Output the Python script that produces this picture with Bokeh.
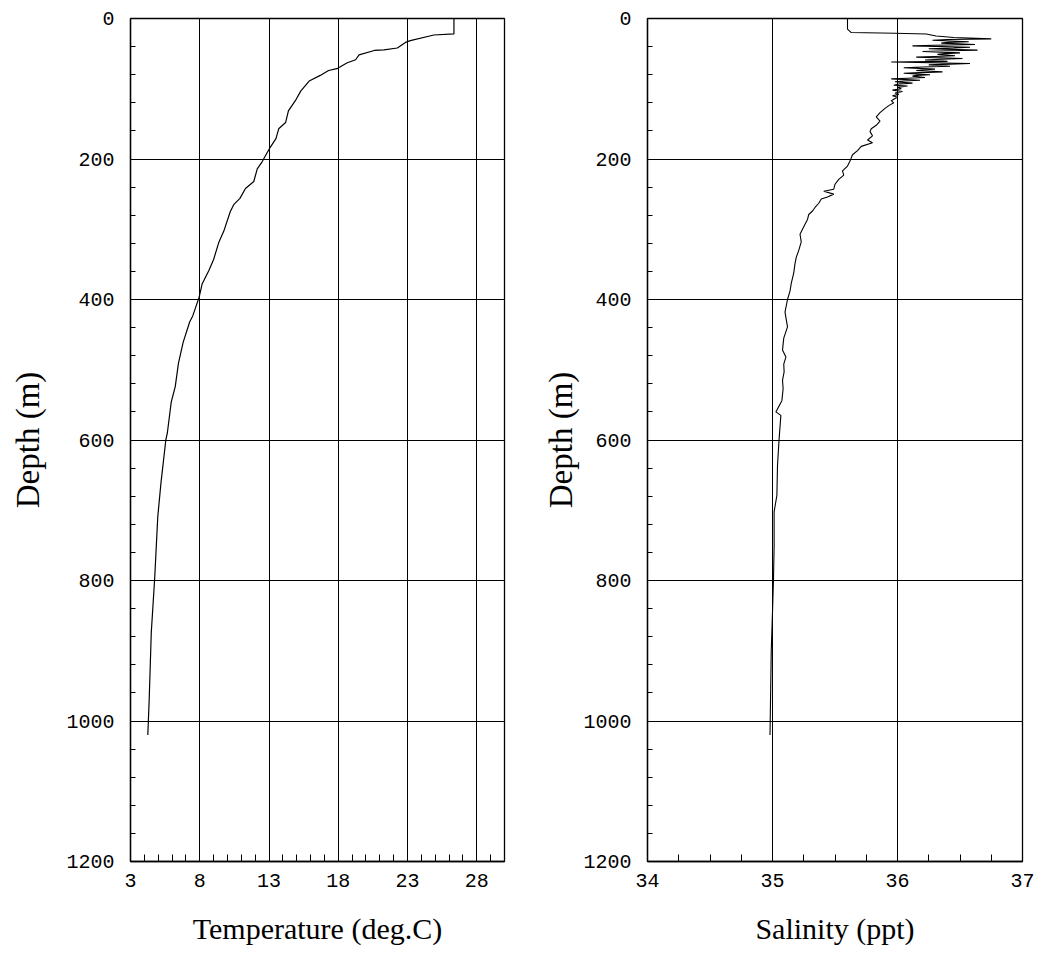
from bokeh.plotting import figure
from bokeh.layouts import row
from bokeh.models import Range1d, FixedTicker, SingleIntervalTicker
from bokeh.embed import file_html
from bokeh.resources import INLINE

# ---- data ----
temp_depth = [0, 22, 23.5, 31.5, 34, 42, 44.6, 45.5, 51.7, 58.7, 63, 71.4, 74, 81, 89, 103, 117,
              131.5, 148, 157, 171, 183, 195, 204, 214, 232, 242, 256, 265, 275, 303, 319, 343,
              359, 378, 397, 423, 432, 461, 491, 524, 546, 590, 600, 661, 709, 799, 874, 969, 1020]
temp_vals = [26.35, 26.35, 24.9, 23.2, 22.85, 22.26, 21.3, 20.6, 19.5, 19.25, 18.65, 17.9, 17.3,
             16.7, 15.9, 15.3, 14.9, 14.4, 14.2, 13.7, 13.5, 13.1, 12.75, 12.5, 12.15, 11.9, 11.3,
             10.9, 10.45, 10.2, 9.73, 9.37, 9.0, 8.65, 8.17, 7.95, 7.5, 7.27, 6.8, 6.46, 6.23, 5.94,
             5.66, 5.55, 5.2, 4.97, 4.74, 4.5, 4.35, 4.25]

sal_depth = [0, 15, 20, 21, 22, 25, 27, 29, 30, 31, 33, 34, 35, 37, 38, 39, 41, 42, 43, 45, 46,
             47, 49, 50, 51, 53, 54, 55, 57, 58, 59, 61, 62, 64, 65, 66, 68, 69, 70, 72, 73, 74,
             76, 77, 78, 80, 81, 82, 84, 85, 86, 88, 89, 90, 92, 93, 95, 96, 98, 100, 102, 104,
             106, 108, 110, 112, 114, 117, 120, 124, 128, 134, 140, 146, 152, 157, 161, 167, 173,
             177, 182, 188, 194, 203, 210, 217, 223, 229, 236, 243, 246, 250, 254, 257, 263, 269,
             274, 279, 286, 293, 300, 307, 318, 330, 340, 349, 362, 377, 388, 400, 418, 439, 455,
             472, 482, 492, 503, 515, 527, 544, 560, 565, 598, 636, 679, 702, 750, 797, 845, 900,
             960, 1020]
sal_vals = [35.60, 35.60, 35.63, 35.98, 36.23, 36.31, 36.45, 36.75, 36.40, 36.28, 36.57, 36.40,
            36.35, 36.62, 36.30, 36.12, 36.58, 36.45, 36.25, 36.64, 36.40, 36.20, 36.50, 36.38,
            36.32, 36.46, 36.30, 36.15, 36.52, 36.35, 36.22, 36.40, 35.95, 36.58, 36.42, 36.25,
            36.42, 36.20, 36.05, 36.30, 36.22, 36.15, 36.36, 36.18, 36.05, 36.26, 36.15, 36.12,
            36.22, 36.08, 35.95, 36.18, 36.05, 35.98, 36.12, 36.02, 35.97, 36.08, 36.00, 36.03,
            35.96, 36.04, 35.98, 36.01, 35.96, 36.00, 35.98, 35.95, 35.97, 35.93, 35.90, 35.86,
            35.83, 35.86, 35.83, 35.79, 35.78, 35.80, 35.76, 35.80, 35.71, 35.68, 35.64, 35.62,
            35.60, 35.56, 35.57, 35.53, 35.50, 35.49, 35.41, 35.49, 35.44, 35.39, 35.37, 35.34,
            35.32, 35.29, 35.28, 35.26, 35.24, 35.22, 35.23, 35.21, 35.19, 35.18, 35.17, 35.15,
            35.14, 35.12, 35.10, 35.12, 35.09, 35.08, 35.107, 35.09, 35.093, 35.08, 35.085, 35.075,
            35.027, 35.067, 35.053, 35.04, 35.035, 35.013, 35.013, 35.008, 35.0, 34.99, 34.985,
            34.98]

depth_ticks_interval = 200
temp_ticks = [3, 8, 13, 18, 23, 28]
temp_minor = list(range(3, 31))
sal_ticks = [34, 35, 36, 37]
sal_minor = [34 + 0.25 * i for i in range(13)]

TICK_FONT = "Liberation Mono"
LABEL_FONT = "Liberation Serif"


def make_fig(width, bl, br, xr, ticks, minor, xlabel, ylab_standoff):
    p = figure(width=width, height=959, x_range=Range1d(*xr), y_range=Range1d(1200, 0),
               output_backend="svg", toolbar_location=None,
               min_border_left=bl, min_border_right=br, min_border_top=18, min_border_bottom=98)
    p.background_fill_color = "white"
    p.border_fill_color = "white"
    p.outline_line_color = "black"
    p.outline_line_width = 1.3
    p.outline_line_alpha = 1

    p.xaxis.ticker = FixedTicker(ticks=ticks, minor_ticks=minor)
    p.yaxis.ticker = SingleIntervalTicker(interval=depth_ticks_interval, num_minor_ticks=5)

    for ax in (p.xaxis[0], p.yaxis[0]):
        ax.axis_line_color = "black"
        ax.axis_line_width = 1.3
        ax.major_tick_in = 0
        ax.major_tick_out = 0
        ax.minor_tick_out = 0
        ax.minor_tick_line_color = "black"
        ax.minor_tick_line_width = 1
        ax.major_label_text_font = TICK_FONT
        ax.major_label_text_font_size = "20px"
        ax.major_label_text_color = "black"
        ax.axis_label_text_font = LABEL_FONT
        ax.axis_label_text_font_style = "normal"
        ax.axis_label_text_color = "black"
    p.xaxis.axis_label_text_font_size = "30px"
    p.yaxis.axis_label_text_font_size = "33px"
    p.xaxis.minor_tick_in = 7
    p.yaxis.minor_tick_in = 5
    p.xaxis.major_label_standoff = 12
    p.yaxis.major_label_standoff = 16
    p.xaxis.axis_label = xlabel
    p.xaxis.axis_label_standoff = 22
    p.yaxis.axis_label = "Depth (m)"
    p.yaxis.axis_label_standoff = ylab_standoff

    p.grid.grid_line_color = "black"
    p.grid.grid_line_alpha = 1
    p.grid.grid_line_width = 1
    return p


p1 = make_fig(540, 130, 36, (3, 30), temp_ticks, temp_minor, "Temperature (deg.C)", 17)
p1.line(temp_vals, temp_depth, line_color="black", line_width=1.2)

p2 = make_fig(510, 103, 28, (34, 37), sal_ticks, sal_minor, "Salinity (ppt)", 1)
p2.line(sal_vals, sal_depth, line_color="black", line_width=1.1)

layout = row(p1, p2, spacing=0)
open("out.html", "w").write(file_html(layout, INLINE))
